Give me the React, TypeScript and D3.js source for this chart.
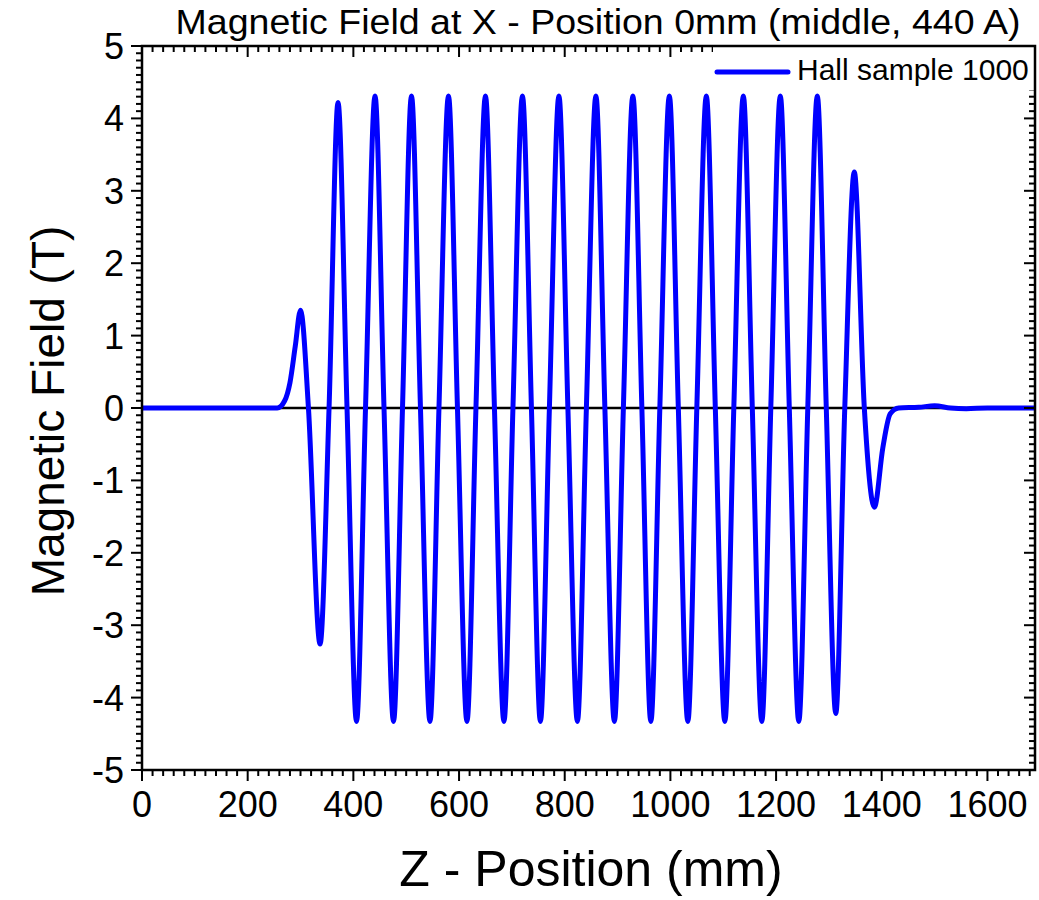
import React from "react";
import * as d3 from "d3";

// Hall probe scan (z in mm, B in T)
const Z_MM = [
  0, 256, 270, 280, 290, 300, 315, 337, 354, 371, 388, 406, 423, 441, 458, 476,
  493, 510, 527, 545, 562, 580, 597, 615, 632, 650, 667, 685, 702, 720, 737,
  754, 771, 789, 806, 824, 841, 859, 876, 894, 911, 929, 946, 963, 980, 998,
  1015, 1033, 1050, 1068, 1085, 1103, 1120, 1138, 1155, 1173, 1190, 1208, 1225,
  1243, 1260, 1278, 1295, 1313, 1330, 1348, 1367, 1386, 1402, 1416, 1432, 1470,
  1500, 1530, 1560, 1600, 1690,
];
const FIELD_T = [
  0, 0, 0.1, 0.35, 0.85, 1.35, 0, -3.26, 0, 4.22, 0, -4.33, 0, 4.31, 0, -4.33,
  0, 4.31, 0, -4.33, 0, 4.31, 0, -4.33, 0, 4.31, 0, -4.33, 0, 4.31, 0, -4.33,
  0, 4.31, 0, -4.33, 0, 4.31, 0, -4.33, 0, 4.31, 0, -4.33, 0, 4.31, 0, -4.33,
  0, 4.31, 0, -4.33, 0, 4.31, 0, -4.33, 0, 4.31, 0, -4.33, 0, 4.31, 0, -4.22,
  0, 3.26, 0, -1.37, -0.55, -0.08, 0, 0.01, 0.03, 0, -0.01, 0, 0,
];

const X_TICKS = [0, 200, 400, 600, 800, 1000, 1200, 1400, 1600];
const Y_TICKS = [-5, -4, -3, -2, -1, 0, 1, 2, 3, 4, 5];

const TITLE = "Magnetic Field at X - Position 0mm (middle, 440 A)";
const X_LABEL = "Z - Position (mm)";
const Y_LABEL = "Magnetic Field (T)";
const LEGEND = "Hall sample 1000";

const W = 1039;
const H = 900;
const left = 142;
const right = 1035;
const top = 46;
const bottom = 770;
const FONT = "'Liberation Sans', Arial, sans-serif";

const App = () => {
  const x = d3.scaleLinear().domain([0, 1690]).range([left, right]);
  const y = d3.scaleLinear().domain([-5, 5]).range([bottom, top]);

  const pts = Z_MM.map((z, i) => [z, FIELD_T[i]]);
  const line = d3
    .line()
    .x((d) => x(d[0]))
    .y((d) => y(d[1]))
    .curve(d3.curveMonotoneX);

  const xMinor = d3.range(0, 1690, 20).filter((v) => v % 200 !== 0);
  const yMinor = d3.range(-50, 51, 1).filter((v) => v % 10 !== 0).map((v) => v / 10);

  const tickStroke = { stroke: "#000", strokeWidth: 2 };

  return (
    <svg
      width={W}
      height={H}
      style={{ position: "absolute", left: 0, top: 0, background: "#fff" }}
      fontFamily={FONT}
    >
      <rect width={W} height={H} fill="#fff" />

      {/* zero line */}
      <line x1={left} x2={right} y1={y(0)} y2={y(0)} stroke="#000" strokeWidth={2.5} />

      {/* data */}
      <path d={line(pts)} fill="none" stroke="#0000ff" strokeWidth={5} strokeLinejoin="round" />

      {/* bottom axis ticks (outward) */}
      {X_TICKS.map((v) => (
        <line key={"xb" + v} x1={x(v)} x2={x(v)} y1={bottom} y2={bottom + 11} {...tickStroke} />
      ))}
      {xMinor.map((v) => (
        <line key={"xbm" + v} x1={x(v)} x2={x(v)} y1={bottom} y2={bottom + 6} {...tickStroke} />
      ))}
      {/* top axis ticks (inward) */}
      {X_TICKS.map((v) => (
        <line key={"xt" + v} x1={x(v)} x2={x(v)} y1={top} y2={top + 11} {...tickStroke} />
      ))}
      {xMinor.map((v) => (
        <line key={"xtm" + v} x1={x(v)} x2={x(v)} y1={top} y2={top + 6} {...tickStroke} />
      ))}
      {/* left axis ticks (outward) */}
      {Y_TICKS.map((v) => (
        <line key={"yl" + v} x1={left - 11} x2={left} y1={y(v)} y2={y(v)} {...tickStroke} />
      ))}
      {yMinor.map((v) => (
        <line key={"ylm" + v} x1={left - 6} x2={left} y1={y(v)} y2={y(v)} {...tickStroke} />
      ))}
      {/* right axis ticks (inward) */}
      {Y_TICKS.map((v) => (
        <line key={"yr" + v} x1={right - 11} x2={right} y1={y(v)} y2={y(v)} {...tickStroke} />
      ))}
      {yMinor.map((v) => (
        <line key={"yrm" + v} x1={right - 6} x2={right} y1={y(v)} y2={y(v)} {...tickStroke} />
      ))}

      {/* legend */}
      <rect x={713} y={top + 1} width={right - 713 - 1} height={43} fill="#fff" />
      <line x1={717} x2={788} y1={72} y2={72} stroke="#0000ff" strokeWidth={5} strokeLinecap="round" />
      <text x={797} y={80} fontSize={30} fill="#000">
        {LEGEND}
      </text>

      {/* frame */}
      <rect x={left} y={top} width={right - left} height={bottom - top} fill="none" stroke="#000" strokeWidth={2.5} />

      {/* tick labels */}
      {X_TICKS.map((v) => (
        <text key={"xl" + v} x={x(v)} y={817} fontSize={36} textAnchor="middle" fill="#000">
          {v}
        </text>
      ))}
      {Y_TICKS.map((v) => (
        <text key={"yll" + v} x={124} y={y(v) + 13} fontSize={36} textAnchor="end" fill="#000">
          {v}
        </text>
      ))}

      {/* titles */}
      <text
        x={598}
        y={34}
        fontSize={35}
        textAnchor="middle"
        fontFamily="'Liberation Sans Narrow', 'Arial Narrow', 'Liberation Sans', sans-serif"
        textLength={845}
        lengthAdjust="spacingAndGlyphs"
      >
        {TITLE}
      </text>
      <text x={591} y={886} fontSize={50} textAnchor="middle">
        {X_LABEL}
      </text>
      <text transform={`translate(64, ${411}) rotate(-90)`} fontSize={46} textAnchor="middle">
        {Y_LABEL}
      </text>
    </svg>
  );
};

export default App;
